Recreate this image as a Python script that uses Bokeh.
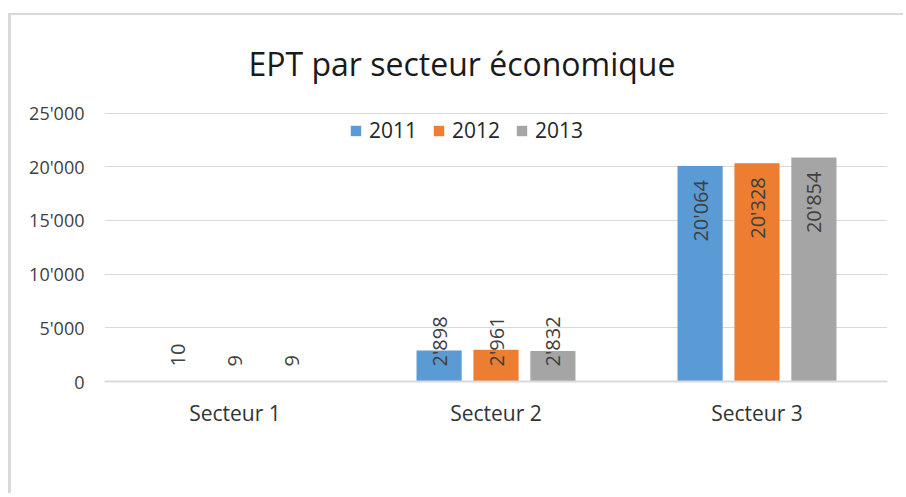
import math
from bokeh.plotting import figure
from bokeh.models import (ColumnDataSource, FactorRange, Range1d, FixedTicker,
                          CustomJSTickFormatter)
from bokeh.transform import dodge
from bokeh.core.properties import value
from bokeh.embed import file_html
from bokeh.resources import INLINE

# ---- data ----
sectors = ["Secteur 1", "Secteur 2", "Secteur 3"]
years = ["2011", "2012", "2013"]
ept_2011 = [10, 2898, 20064]
ept_2012 = [9, 2961, 20328]
ept_2013 = [9, 2832, 20854]
y_ticks = [0, 5000, 10000, 15000, 20000, 25000]
colors = ["#5B9BD5", "#ED7D31", "#A5A5A5"]
title_text = "EPT par secteur économique"

series = [ept_2011, ept_2012, ept_2013]
FONT = "Open Sans"

def fmt(v):
    return f"{v:,}".replace(",", "'")

p = figure(x_range=FactorRange(*sectors, range_padding=0),
           y_range=Range1d(0, 25050),
           width=895, height=480, output_backend="svg", toolbar_location=None,
           min_border_left=93, min_border_right=19, min_border_top=96,
           min_border_bottom=114)

p.styles = {"margin-left": "8px", "margin-top": "13px",
            "border-left": "3px solid #d9d9d9", "border-top": "2px solid #d9d9d9"}

p.outline_line_color = None
p.background_fill_color = "white"
p.border_fill_color = "white"

src = ColumnDataSource(dict(sector=sectors,
                            y2011=ept_2011, y2012=ept_2012, y2013=ept_2013))

offsets = [-0.218, 0.0, 0.218]
bar_w = 0.173
for yr, off, col in zip(years, offsets, colors):
    p.vbar(x=dodge("sector", off, range=p.x_range), top="y" + yr, width=bar_w,
           source=src, fill_color=col, line_color=None, legend_label=yr)

# data labels: inside end for tall bars, from the base for short ones
for yr, off, vals in zip(years, offsets, series):
    big = dict(sector=[], y=[], t=[])
    small = dict(sector=[], y=[], t=[])
    for s, v in zip(sectors, vals):
        if v >= 10000:
            big["sector"].append(s); big["y"].append(v); big["t"].append(fmt(v))
        else:
            small["sector"].append(s); small["y"].append(0); small["t"].append(fmt(v))
    for d, align, yoff in ((big, "right", 14), (small, "left", -15)):
        if not d["t"]:
            continue
        p.text(x=dodge("sector", off, range=p.x_range), y="y", text="t",
               source=ColumnDataSource(d), angle=math.pi / 2, text_align=align,
               text_baseline="middle", y_offset=yoff,
               text_font=value(FONT), text_font_size="20px",
               text_color="#404040")

# axes
p.yaxis.ticker = FixedTicker(ticks=y_ticks)
p.yaxis.formatter = CustomJSTickFormatter(
    code="return tick.toString().replace(/\\B(?=(\\d{3})+(?!\\d))/g, \"'\");")
p.yaxis.axis_line_color = None
p.yaxis.major_tick_line_color = None
p.yaxis.minor_tick_line_color = None
p.yaxis.major_label_standoff = 14
p.yaxis.major_label_text_font = FONT
p.yaxis.major_label_text_font_size = "18px"
p.yaxis.major_label_text_color = "#404040"

p.xaxis.axis_line_color = "#d9d9d9"
p.xaxis.axis_line_width = 2
p.xaxis.major_tick_line_color = None
p.xaxis.minor_tick_line_color = None
p.xaxis.major_label_standoff = 11
p.xaxis.major_label_text_font = FONT
p.xaxis.major_label_text_font_size = "21px"
p.xaxis.major_label_text_color = "#333333"

p.xgrid.grid_line_color = None
p.ygrid.grid_line_color = "#d9d9d9"
p.ygrid.grid_line_width = 1

# title
p.title.text = title_text
p.title.align = "left"
p.title.offset = 144
p.title.standoff = 52
p.title.vertical_align = "top"
p.title.text_font = FONT
p.title.text_font_size = "32px"
p.title.text_font_style = "normal"
p.title.text_color = "#1a1a1a"

# legend
lg = p.legend[0]
lg.orientation = "horizontal"
lg.location = (245, 237)
lg.glyph_width = 13
lg.glyph_height = 13
lg.label_standoff = 7
lg.spacing = 15
lg.padding = 4
lg.margin = 0
lg.border_line_color = None
lg.background_fill_alpha = 0
lg.label_text_font = FONT
lg.label_text_font_size = "21px"
lg.label_text_color = "#262626"

open("out.html", "w").write(file_html(p, INLINE))
